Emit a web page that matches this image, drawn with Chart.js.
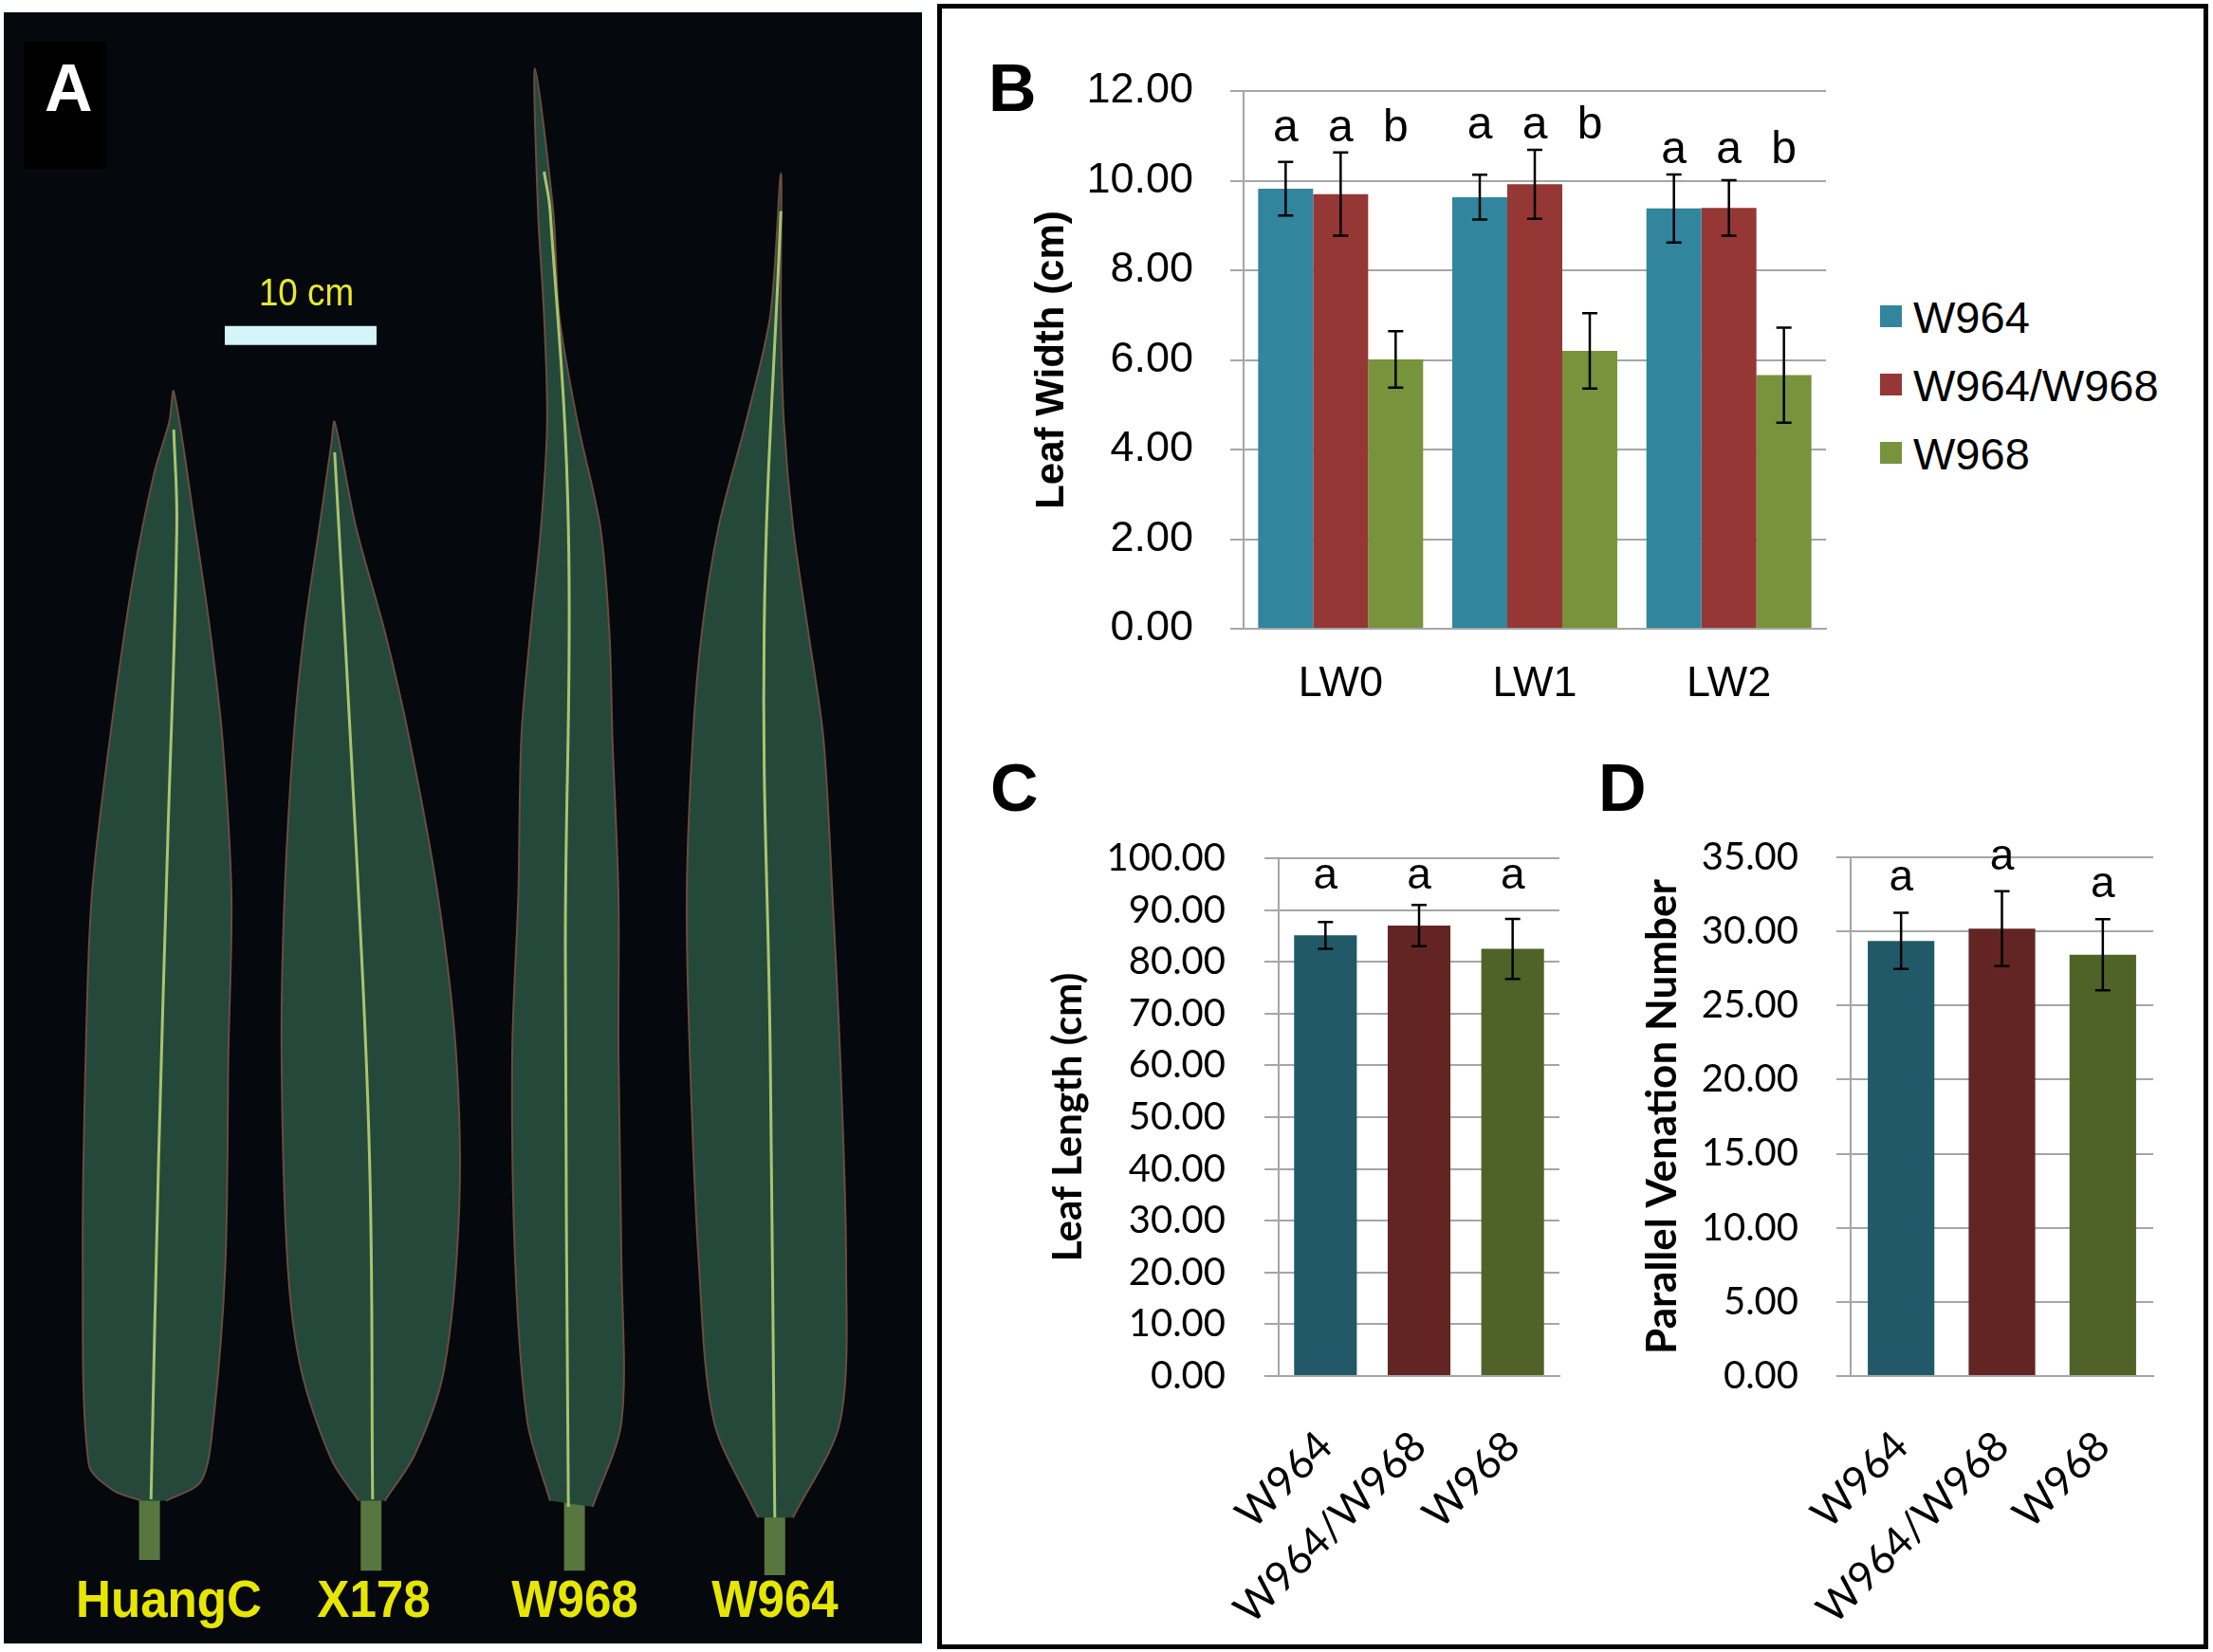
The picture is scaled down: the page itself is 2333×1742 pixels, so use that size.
<!DOCTYPE html>
<html>
<head>
<meta charset="utf-8">
<title>Leaf traits of W964, W968 and hybrid</title>
<script src="https://cdn.jsdelivr.net/npm/chart.js@4.4.1/dist/chart.umd.min.js"></script>
<style>
  html, body { margin: 0; padding: 0; background: #fff; }
  body { width: 2333px; height: 1742px; position: relative; overflow: hidden; }
  .abs { position: absolute; }
  #panelA { left: 4px; top: 13px; width: 968px; height: 1720px; background: #05080c; }
  #boxA { left: 25px; top: 44px; width: 87px; height: 134px; background: #000; }
  #boxR { left: 988px; top: 4px; width: 1340px; height: 1735px; border: 5px solid #000; box-sizing: border-box; }
  canvas { position: absolute; }
</style>
</head>
<body>
<div id="panelA" class="abs"></div>
<div id="boxA" class="abs"></div>
<div id="boxR" class="abs"></div>
<canvas id="chartA" width="968" height="1720" style="left:4px;top:13px"></canvas>
<canvas id="chartB" width="900" height="740" style="left:1050px;top:30px"></canvas>
<canvas id="chartC" width="640" height="895" style="left:1040px;top:840px"></canvas>
<canvas id="chartD" width="600" height="895" style="left:1700px;top:840px"></canvas>

<script>
// ---- data ----
const seriesNames = ['W964', 'W964/W968', 'W968'];
const widthCategories = ['LW0', 'LW1', 'LW2'];

// B: leaf width (cm), mean and error
const widthW964 = [9.82, 9.63, 9.38];
const widthW964Err = [0.60, 0.50, 0.76];
const widthHybrid = [9.70, 9.92, 9.39];
const widthHybridErr = [0.93, 0.77, 0.62];
const widthW968 = [6.01, 6.20, 5.66];
const widthW968Err = [0.63, 0.84, 1.06];
const widthLetters = [['a', 'a', 'a'], ['a', 'a', 'a'], ['b', 'b', 'b']];

// C: leaf length (cm)
const lengthMeans = [85.1, 87.0, 82.5];
const lengthErr = [2.6, 4.0, 5.8];
const lengthLetters = ['a', 'a', 'a'];

// D: parallel venation number
const venationMeans = [29.36, 30.19, 28.43];
const venationErr = [1.90, 2.53, 2.40];
const venationLetters = ['a', 'a', 'a'];

// A: leaf silhouettes, in cm (x from left edge, y from bottom edge)
const cultivars = ['HuangC', 'X178', 'W968', 'W964'];
const huangCOutline = [[9.1,9.4],[7.2,10.1],[5.6,11.8],[5.2,25.0],[5.4,38.9],[5.8,49.3],[7.0,59.7],[8.5,70.1],[9.9,77.1],[10.9,80.5],[11.2,82.5],
  [12.6,73.6],[13.6,66.7],[14.4,59.7],[15.0,49.3],[14.8,38.9],[14.6,25.0],[13.8,14.6],[13.0,10.7],[10.7,9.4]];
const x178Outline = [[23.4,9.4],[21.6,12.1],[19.6,18.0],[18.7,25.0],[18.3,38.9],[18.5,49.3],[19.1,59.7],[19.8,66.7],[20.8,73.6],[21.6,79.2],[21.8,80.5],
  [23.2,73.6],[25.1,66.7],[26.7,59.7],[28.6,49.3],[29.8,38.9],[30.0,28.5],[29.0,18.0],[27.1,12.5],[25.1,9.4]];
const w968Outline = [[36.0,9.4],[34.5,14.6],[33.7,25.0],[33.5,38.9],[33.9,49.3],[34.1,59.7],[34.7,66.7],[35.4,73.6],[35.8,80.5],[35.6,87.5],[35.2,94.4],[35.0,103.8],
  [36.2,94.4],[36.6,87.5],[37.8,80.5],[39.3,73.6],[39.9,66.7],[40.1,59.7],[40.5,49.3],[40.5,38.9],[40.7,25.0],[40.7,14.6],[38.8,9.0]];
const w964Outline = [[49.7,8.3],[46.8,14.6],[45.8,25.0],[45.2,38.9],[45.0,49.3],[45.4,59.7],[46.0,66.7],[47.1,73.6],[48.9,80.5],[50.5,87.5],[51.2,96.9],
  [51.2,87.5],[51.4,80.5],[52.0,73.6],[53.0,66.7],[54.0,59.7],[54.6,49.3],[55.1,38.9],[55.5,25.0],[55.1,14.6],[52.0,8.3]];
const huangCMidrib = [[11.2,80.0],[11.4,73.6],[10.8,52.8],[10.2,31.9],[9.7,9.5]];
const x178Midrib = [[21.8,78.5],[23.2,52.8],[24.1,31.9],[24.3,9.5]];
const w968Midrib = [[35.6,97.0],[36.0,94.4],[37.2,73.6],[37.0,45.8],[37.2,9.0]];
const w964Midrib = [[51.2,94.4],[50.1,66.7],[50.5,38.9],[50.8,8.3]];
const stemX = [9.6, 24.2, 37.6, 50.8];
const stemTop = [10.0, 10.0, 9.5, 8.8];
const stemBottom = [5.5, 4.8, 4.8, 4.5];
const scaleBarCm = 10;

// ---- styles ----
const ARIAL = "'Liberation Sans', Arial, sans-serif";
const CALIBRI = "Lato, 'Open Sans', sans-serif";
const colorsB = ['#31859c', '#953735', '#77933c'];
const colorsCD = ['#215968', '#632523', '#4f6228'];
const GRID = '#a6a6a6';

Chart.defaults.animation = false;
Chart.defaults.font.family = ARIAL;
Chart.defaults.color = '#000';

/**
 * error bars + significance letters drawn over the bars
 */
const errorBarPlugin = {
  id: 'errorBars',
  afterDatasetsDraw(chart, args, opts) {
    const ctx = chart.ctx;
    const y = chart.scales.y;
    const cap = opts.cap || 8;
    const tops = []; // tops[datasetIndex][barIndex]
    ctx.save();
    ctx.strokeStyle = '#000';
    ctx.lineWidth = 2.5;
    chart.data.datasets.forEach((ds, i) => {
      const meta = chart.getDatasetMeta(i);
      tops[i] = [];
      meta.data.forEach((bar, j) => {
        const v = ds.data[j], e = ds.errors[j];
        const t = y.getPixelForValue(v + e), b = y.getPixelForValue(v - e);
        tops[i][j] = t;
        ctx.beginPath();
        ctx.moveTo(bar.x, t); ctx.lineTo(bar.x, b);
        ctx.moveTo(bar.x - cap, t); ctx.lineTo(bar.x + cap, t);
        ctx.moveTo(bar.x - cap, b); ctx.lineTo(bar.x + cap, b);
        ctx.stroke();
      });
    });
    // letters
    ctx.fillStyle = '#000';
    ctx.font = opts.letterFont;
    ctx.textAlign = 'center';
    ctx.textBaseline = 'alphabetic';
    chart.data.datasets.forEach((ds, i) => {
      const meta = chart.getDatasetMeta(i);
      meta.data.forEach((bar, j) => {
        let t = tops[i][j];
        if (opts.group === 'category') {
          t = Math.min(...tops.map(row => row[j]));
        } else if (opts.group === 'all') {
          t = Math.min(...tops.flat());
        }
        ctx.fillText(ds.letters[j], bar.x, t - opts.offset);
      });
    });
    ctx.restore();
  }
};

function fixedWidth(w) { return (scale) => { scale.width = w; }; }
function fixedHeight(h) { return (scale) => { scale.height = h; }; }

// ---- B: leaf width ----
new Chart(document.getElementById('chartB'), {
  type: 'bar',
  data: {
    labels: widthCategories,
    datasets: [
      { label: seriesNames[0], data: widthW964, errors: widthW964Err, letters: widthLetters[0], backgroundColor: colorsB[0] },
      { label: seriesNames[1], data: widthHybrid, errors: widthHybridErr, letters: widthLetters[1], backgroundColor: colorsB[1] },
      { label: seriesNames[2], data: widthW968, errors: widthW968Err, letters: widthLetters[2], backgroundColor: colorsB[2] },
    ]
  },
  options: {
    responsive: false,
    events: [],
    layout: { padding: { top: 58, right: 25, left: 0, bottom: 0 } },
    datasets: { bar: { categoryPercentage: 0.85, barPercentage: 1.0, borderWidth: 0 } },
    plugins: {
      legend: { display: false },
      tooltip: { enabled: false },
      errorBars: { cap: 8, letterFont: `48px ${ARIAL}`, offset: 12, group: 'category' }
    },
    scales: {
      x: {
        afterFit: fixedHeight(107),
        grid: { display: false },
        border: { display: true, color: GRID, width: 2 },
        ticks: { font: { size: 45 }, padding: 24 }
      },
      y: {
        min: 0, max: 12,
        afterFit: fixedWidth(261),
        grid: { color: GRID, lineWidth: 2, tickLength: 14 },
        border: { display: true, color: GRID, width: 2 },
        ticks: { stepSize: 2, font: { size: 45 }, padding: 39, callback: v => v.toFixed(2) },
        title: { display: true, text: 'Leaf Width (cm)', font: { size: 42, weight: 'bold' }, padding: { top: 34, bottom: 0 } }
      }
    }
  },
  plugins: [errorBarPlugin]
});

// ---- C and D: single series with one colour per genotype ----
function singleSeriesChart(id, values, errors, letters, yMax, yStep, yTitle, opt) {
  return new Chart(document.getElementById(id), {
    type: 'bar',
    data: {
      labels: seriesNames,
      datasets: [{ data: values, errors: errors, letters: letters, backgroundColor: colorsCD }]
    },
    options: {
      responsive: false,
      events: [],
      layout: { padding: { top: 48, right: opt.right, left: 0, bottom: 0 } },
      datasets: { bar: { categoryPercentage: opt.barFrac, barPercentage: 1.0, borderWidth: 0 } },
      plugins: {
        legend: { display: false },
        tooltip: { enabled: false },
        errorBars: { cap: 8, letterFont: `46px ${ARIAL}`, offset: opt.letterOffset, group: opt.letterGroup }
      },
      scales: {
        x: {
          afterFit: fixedHeight(284),
          grid: { display: false },
          border: { display: true, color: GRID, width: 2 },
          ticks: { font: { family: CALIBRI, size: 44 }, padding: 40, minRotation: 45, maxRotation: 45, autoSkip: false }
        },
        y: {
          min: 0, max: yMax,
          afterFit: fixedWidth(opt.axisWidth),
          grid: { color: GRID, lineWidth: 2, tickLength: 15 },
          border: { display: true, color: GRID, width: 2 },
          ticks: { stepSize: yStep, font: { family: CALIBRI, size: 40 }, padding: opt.tickPad, callback: v => v.toFixed(2) },
          title: { display: true, text: yTitle, font: { family: CALIBRI, size: opt.titleSize, weight: 'bold' }, padding: { top: opt.titlePad, bottom: 0 } }
        }
      }
    },
    plugins: [errorBarPlugin]
  });
}

singleSeriesChart('chartC', lengthMeans, lengthErr, lengthLetters, 100, 10, 'Leaf Length (cm)',
  { right: 36, barFrac: 0.67, axisWidth: 308, tickPad: 41, titleSize: 42, titlePad: 61, letterOffset: 17, letterGroup: 'all' });
singleSeriesChart('chartD', venationMeans, venationErr, venationLetters, 35, 5, 'Parallel Venation Number',
  { right: 30, barFrac: 0.66, axisWidth: 251, tickPad: 40, titleSize: 44, titlePad: 26, letterOffset: 23, letterGroup: 'bar' });

// ---- A: the leaves, as filled outlines on a cm grid ----
const toPts = arr => arr.map(([x, y]) => ({ x, y }));
const outlines = [huangCOutline, x178Outline, w968Outline, w964Outline];
const midribs = [huangCMidrib, x178Midrib, w968Midrib, w964Midrib];

const leafSets = [];
midribs.forEach(m => leafSets.push({
  data: toPts(m), showLine: true, borderColor: '#a9c46e', borderWidth: 3, pointRadius: 0, tension: 0.4
}));
outlines.forEach(o => leafSets.push({
  data: toPts(o), showLine: true, fill: 'shape', backgroundColor: '#24483a',
  borderColor: '#6a4c40', borderWidth: 2, pointRadius: 0, tension: 0.3
}));
stemX.forEach((x, i) => leafSets.push({
  data: [{ x, y: stemTop[i] }, { x, y: stemBottom[i] }], showLine: true,
  borderColor: '#587640', borderWidth: 22, borderCapStyle: 'butt', pointRadius: 0
}));
// 10 cm scale bar
leafSets.push({
  data: [{ x: 14.56, y: 86.2 }, { x: 14.56 + scaleBarCm, y: 86.2 }], showLine: true,
  borderColor: '#d4f5f9', borderWidth: 20, borderCapStyle: 'butt', pointRadius: 0
});

new Chart(document.getElementById('chartA'), {
  type: 'scatter',
  data: { datasets: leafSets },
  options: {
    responsive: false,
    events: [],
    layout: { padding: 0 },
    plugins: { legend: { display: false }, tooltip: { enabled: false } },
    scales: {
      x: { display: false, min: 0, max: 60.5 },
      y: { display: false, min: 0, max: 107.5 }
    }
  }
});

// ---- text: panel letters, photo labels, legend ----
function addText(str, x, baseline, size, o = {}) {
  const d = document.createElement('div');
  d.textContent = str;
  const tf = [];
  if (o.center) tf.push('translateX(-50%)');
  if (o.scaleX) tf.push(`scaleX(${o.scaleX})`);
  d.style.cssText = `position:absolute;white-space:nowrap;font:${o.bold ? 'bold ' : ''}${size}px ${o.family || ARIAL};` +
    `line-height:${size}px;color:${o.color || '#000'};left:${x}px;top:${baseline - 0.8465 * size}px;` +
    (tf.length ? `transform:${tf.join(' ')};transform-origin:${o.center ? '50%' : '0'} 0;` : '');
  document.body.appendChild(d);
}

addText('A', 47, 117, 70, { bold: true, color: '#fff' });
addText('B', 1042, 117, 70, { bold: true });
addText('C', 1044, 855, 70, { bold: true });
addText('D', 1685, 855, 70, { bold: true });
addText(scaleBarCm + ' cm', 323, 322, 40, { color: '#e8e82a', center: true, scaleX: 0.92 });

const cultivarCenters = [178, 394, 606, 817];
cultivars.forEach((c, i) => addText(c, cultivarCenters[i], 1706, 55, { bold: true, color: '#e6e600', center: true, scaleX: 0.93 }));

// legend for B
seriesNames.forEach((name, i) => {
  const top = 322 + i * 72;
  const sq = document.createElement('div');
  sq.style.cssText = `position:absolute;left:1982px;top:${top}px;width:23px;height:23px;background:${colorsB[i]};`;
  document.body.appendChild(sq);
  addText(name, 2017, top + 11.5 + 16.8, 47);
});
</script>
</body>
</html>
